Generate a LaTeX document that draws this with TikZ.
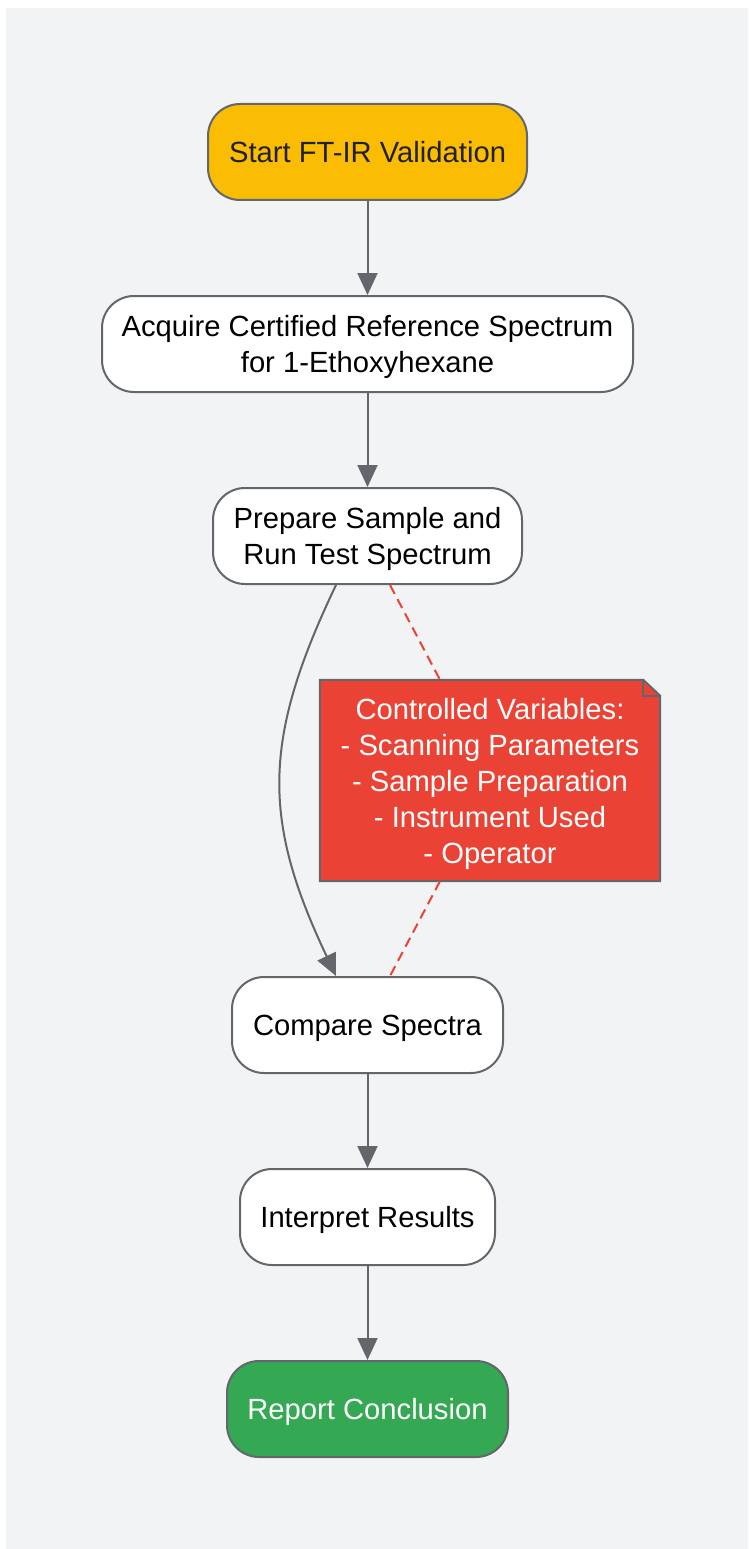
\documentclass[tikz,border=0pt]{standalone}
\usepackage{fontspec}
\setmainfont{Liberation Sans}
\usetikzlibrary{arrows.meta,calc}
\definecolor{bgc}{HTML}{F1F3F5}
\definecolor{edgec}{HTML}{63666B}
\definecolor{startc}{HTML}{FBBC04}
\definecolor{notec}{HTML}{EA4335}
\definecolor{endc}{HTML}{34A853}
\definecolor{darktext}{HTML}{202124}
\newcommand{\mystrut}{\rule[-7.5pt]{0pt}{36pt}}
\begin{document}
\begin{tikzpicture}[x=1pt,y=-1pt,
  box/.style={draw=edgec, line width=2pt, rounded corners=32pt, fill=white,
    minimum height=96pt, inner sep=0pt},
  txt/.style={align=center, inner sep=0pt, font=\fontsize{29.2}{36}\selectfont},
  arr/.style={draw=edgec, line width=2pt, -{Triangle[length=22pt,width=20pt]}},
  link/.style={draw=notec, line width=2pt, dash pattern=on 10pt off 6pt}
]
\useasboundingbox (0,0) rectangle (748,1549);
\fill[bgc] (6,8) rectangle (748,1549);

\node[box, fill=startc, minimum width=319pt,
  label={[txt, text=darktext]center:\mystrut Start FT-IR Validation}] (start) at (367.5,152) {};
\node[box, minimum width=531pt,
  label={[txt]center:\mystrut Acquire Certified Reference Spectrum\\\mystrut for 1-Ethoxyhexane}] (acq) at (367.5,344) {};
\node[box, minimum width=309pt,
  label={[txt]center:\mystrut Prepare Sample and\\\mystrut Run Test Spectrum}] (prep) at (367.5,536) {};
\node[box, minimum width=271pt,
  label={[txt]center:\mystrut Compare Spectra}] (comp) at (367.5,1025) {};
\node[box, minimum width=255pt,
  label={[txt]center:\mystrut Interpret Results}] (interp) at (367.5,1217) {};
\node[box, fill=endc, minimum width=281pt,
  label={[txt, text=white]center:\mystrut Report Conclusion}] (rep) at (367.5,1409) {};

\node[minimum width=340pt, minimum height=201pt, inner sep=0pt] (note) at (490,780.5) {};
\draw[draw=edgec, fill=notec, line width=2pt, line join=miter]
  (note.north west) -- ($(note.north east)+(-17,0)$) -- ($(note.north east)+(0,16)$)
  -- (note.south east) -- (note.south west) -- cycle;
\draw[draw=edgec, line width=2pt] ($(note.north east)+(-17,0)$) -- ($(note.north east)+(-17,16)$) -- ($(note.north east)+(0,16)$);
\node[txt, text=white] (notetext) at (note.center)
  {\mystrut Controlled Variables:\\\mystrut - Scanning Parameters\\\mystrut - Sample Preparation\\\mystrut - Instrument Used\\\mystrut - Operator};

\draw[arr] (start) -- (acq);
\draw[arr] (acq) -- (prep);
\draw[arr] ($(prep.south)+(-31.5,0)$) .. controls (262,740) and (262,820) .. ($(comp.north)+(-31.5,0)$);
\draw[arr] (comp) -- (interp);
\draw[arr] (interp) -- (rep);
\draw[link] ($(prep.south)+(22.5,0)$) -- ($(note.north)+(-50,0)$);
\draw[link] ($(note.south)+(-50,0)$) -- ($(comp.north)+(22.5,0)$);
\end{tikzpicture}
\end{document}
